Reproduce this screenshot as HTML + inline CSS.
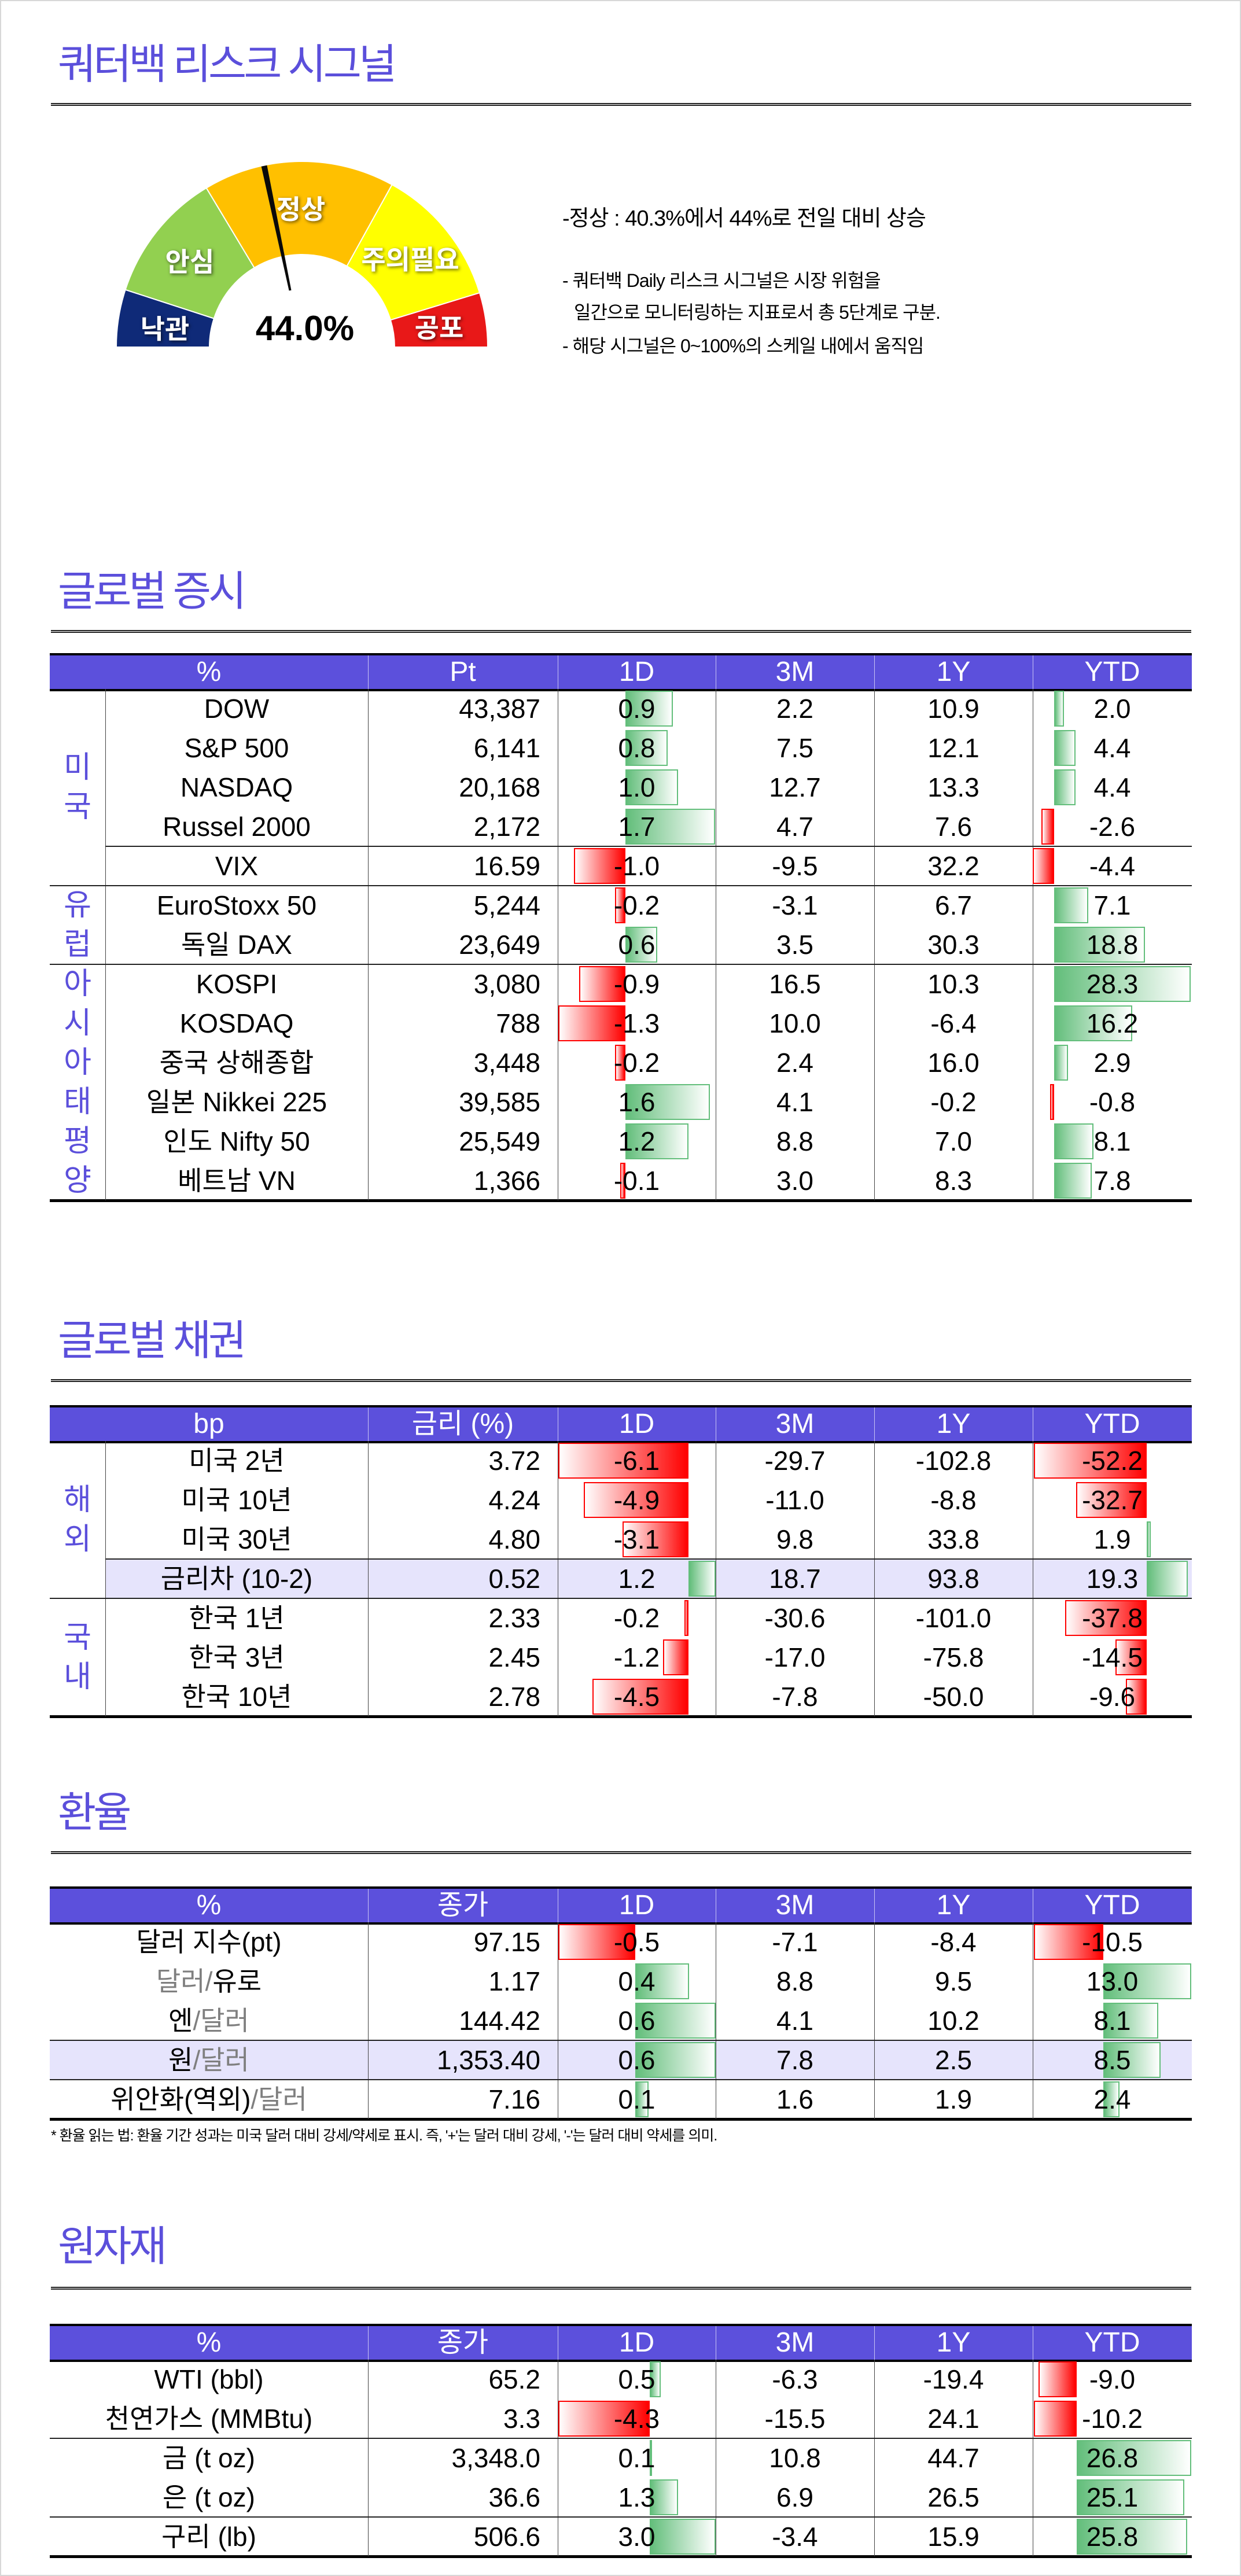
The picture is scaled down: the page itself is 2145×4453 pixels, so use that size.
<!DOCTYPE html>
<html><head><meta charset="utf-8">
<style>
*{margin:0;padding:0;box-sizing:border-box}
body{width:2145px;height:4453px;background:#fff;position:relative;overflow:hidden;font-family:"Liberation Sans","Noto Sans CJK KR",sans-serif;color:#000}
#frame{position:absolute;left:0;top:0;width:2145px;height:4453px;border:2px solid #d8d8d8}
.title{position:absolute;left:100px;font-size:72px;color:#5b4fdb;letter-spacing:-5px;line-height:80px;height:80px;white-space:nowrap}
.rule{position:absolute;left:88px;width:1971px;height:5px;border-top:2px solid #222;border-bottom:2px solid #222}
.abs{position:absolute}
.t{position:absolute;font-size:46px;line-height:68px;white-space:nowrap;text-align:center}
.hdr{position:absolute;background:#5c50dc;border-top:4px solid #000;border-bottom:4px solid #000}
.ht{position:absolute;color:#fff;font-size:48px;text-align:center;white-space:nowrap}
.vl{position:absolute;width:1px;background:#444}
.hl{position:absolute;height:2px;background:#222}
.reg{position:absolute;color:#5b4fdb;font-size:52px;text-align:center;width:96px;left:86px;line-height:68px}
.note{position:absolute;font-size:38px;white-space:nowrap;letter-spacing:-1px}
.note2{position:absolute;font-size:32px;white-space:nowrap;letter-spacing:-1px}
.gray{color:#7f7f7f}
</style></head>
<body>
<div id="frame"></div>

<div class="title" style="top:72px">쿼터백 리스크 시그널</div>
<div class="rule" style="top:178px"></div>

<svg id="gauge" class="abs" style="left:0;top:0" width="1000" height="700"></svg>

<div class="note" style="left:972px;top:346px">-정상 : 40.3%에서 44%로 전일 대비 상승</div>
<div class="note2" style="left:972px;top:460px">- 쿼터백 Daily 리스크 시그널은 시장 위험을</div>
<div class="note2" style="left:992px;top:515px">일간으로 모니터링하는 지표로서 총 5단계로 구분.</div>
<div class="note2" style="left:972px;top:573px">- 해당 시그널은 0~100%의 스케일 내에서 움직임</div>

<div class="title" style="top:983px">글로벌 증시</div>
<div class="rule" style="top:1089px"></div>
<div class="title" style="top:2278px">글로벌 채권</div>
<div class="rule" style="top:2384px"></div>
<div class="title" style="top:3094px">환율</div>
<div class="rule" style="top:3200px"></div>
<div class="title" style="top:3844px">원자재</div>
<div class="rule" style="top:3953px"></div>

<div class="abs" style="left:88px;top:3672px;font-size:25px;white-space:nowrap;letter-spacing:-1px">* 환율 읽는 법: 환율 기간 성과는 미국 달러 대비 강세/약세로 표시. 즉, '+'는 달러 대비 강세, '-'는 달러 대비 약세를 의미.</div>

<div id="tables"></div>

<script>
// ---------- Gauge data ----------
const gaugeBounds = [180, 162, 121, 61, 17, 0];           // segment boundary angles (deg)
const gaugeColors = ["#0f2a78", "#92d050", "#ffc000", "#ffff00", "#e81818"];
const gaugeLabels = ["낙관", "안심", "정상", "주의필요", "공포"];
const gaugeValue = [44.0];

(function(){
  const svg = document.getElementById('gauge');
  const NS = "http://www.w3.org/2000/svg";
  const cx = 522, cy = 600, R = 321, r = 160;
  const pt = (a, rad) => [cx + rad*Math.cos(a*Math.PI/180), cy - rad*Math.sin(a*Math.PI/180)];
  for (let i = 0; i < gaugeColors.length; i++) {
    const a0 = gaugeBounds[i], a1 = gaugeBounds[i+1];
    const p0 = pt(a0,R), p1 = pt(a1,R), q1 = pt(a1,r), q0 = pt(a0,r);
    const p = document.createElementNS(NS,'path');
    p.setAttribute('d', `M${p0[0]},${p0[1]} A${R},${R} 0 0 1 ${p1[0]},${p1[1]} L${q1[0]},${q1[1]} A${r},${r} 0 0 0 ${q0[0]},${q0[1]} Z`);
    p.setAttribute('fill', gaugeColors[i]);
    p.setAttribute('stroke', '#fff');
    p.setAttribute('stroke-width', '2');
    
    
    svg.appendChild(p);
  }
  // labels
  const labelPos = [[285,569],[328,453],[520,362],[709,449],[759,567]];
  for (let i = 0; i < gaugeLabels.length; i++) {
    const t = document.createElementNS(NS,'text');
    t.setAttribute('x', labelPos[i][0]);
    t.setAttribute('y', labelPos[i][1] + 16);
    t.setAttribute('text-anchor', 'middle');
    t.setAttribute('font-size', '46');
    t.setAttribute('font-weight', 'bold');
    t.setAttribute('fill', '#fff');
    t.setAttribute('style', 'font-family:"Liberation Sans","Noto Sans CJK KR",sans-serif;filter:drop-shadow(2px 2px 3px rgba(0,0,0,0.6))');
    t.textContent = gaugeLabels[i];
    
    
    svg.appendChild(t);
  }
  // needle
  const ang = 180 - gaugeValue[0] * 1.8 + 1;
  const tip = pt(ang, 320), base = pt(ang, 100);
  const perp = (ang+90)*Math.PI/180;
  const w1 = 5, w2 = 2;
  const n = document.createElementNS(NS,'polygon');
  n.setAttribute('points', `${tip[0]+w1*Math.cos(perp)},${tip[1]-w1*Math.sin(perp)} ${tip[0]-w1*Math.cos(perp)},${tip[1]+w1*Math.sin(perp)} ${base[0]-w2*Math.cos(perp)},${base[1]+w2*Math.sin(perp)} ${base[0]+w2*Math.cos(perp)},${base[1]-w2*Math.sin(perp)}`);
  n.setAttribute('fill', '#0a0a0a');
  
  
  svg.appendChild(n);
  const v = document.createElementNS(NS,'text');
  v.setAttribute('x', 527); v.setAttribute('y', 588);
  v.setAttribute('text-anchor', 'middle');
  v.setAttribute('font-size', '60'); v.setAttribute('font-weight', 'bold');
  v.setAttribute('style', 'font-family:"Liberation Sans",sans-serif');
  v.textContent = gaugeValue[0].toFixed(1) + '%';
  
  
  svg.appendChild(v);
})();

// ---------- Table data ----------
// Global equity
const eqNames = ["DOW","S&P 500","NASDAQ","Russel 2000","VIX","EuroStoxx 50","독일 DAX","KOSPI","KOSDAQ","중국 상해종합","일본 Nikkei 225","인도 Nifty 50","베트남 VN"];
const eqLevel = ["43,387","6,141","20,168","2,172","16.59","5,244","23,649","3,080","788","3,448","39,585","25,549","1,366"];
const eq1D = [0.9,0.8,1.0,1.7,-1.0,-0.2,0.6,-0.9,-1.3,-0.2,1.6,1.2,-0.1];
const eq3M = [2.2,7.5,12.7,4.7,-9.5,-3.1,3.5,16.5,10.0,2.4,4.1,8.8,3.0];
const eq1Y = [10.9,12.1,13.3,7.6,32.2,6.7,30.3,10.3,-6.4,16.0,-0.2,7.0,8.3];
const eqYTD = [2.0,4.4,4.4,-2.6,-4.4,7.1,18.8,28.3,16.2,2.9,-0.8,8.1,7.8];
// Global bonds
const bdNames = ["미국 2년","미국 10년","미국 30년","금리차 (10-2)","한국 1년","한국 3년","한국 10년"];
const bdLevel = ["3.72","4.24","4.80","0.52","2.33","2.45","2.78"];
const bd1D = [-6.1,-4.9,-3.1,1.2,-0.2,-1.2,-4.5];
const bd3M = [-29.7,-11.0,9.8,18.7,-30.6,-17.0,-7.8];
const bd1Y = [-102.8,-8.8,33.8,93.8,-101.0,-75.8,-50.0];
const bdYTD = [-52.2,-32.7,1.9,19.3,-37.8,-14.5,-9.6];
// FX
const fxNames = ['달러 지수(pt)','<span class="gray">달러/</span>유로','엔<span class="gray">/달러</span>','원<span class="gray">/달러</span>','위안화(역외)<span class="gray">/달러</span>'];
const fxLevel = ["97.15","1.17","144.42","1,353.40","7.16"];
const fx1D = [-0.5,0.4,0.6,0.6,0.1];
const fx3M = [-7.1,8.8,4.1,7.8,1.6];
const fx1Y = [-8.4,9.5,10.2,2.5,1.9];
const fxYTD = [-10.5,13.0,8.1,8.5,2.4];
// Commodities
const cmNames = ["WTI (bbl)","천연가스 (MMBtu)","금 (t oz)","은 (t oz)","구리 (lb)"];
const cmLevel = ["65.2","3.3","3,348.0","36.6","506.6"];
const cm1D = [0.5,-4.3,0.1,1.3,3.0];
const cm3M = [-6.3,-15.5,10.8,6.9,-3.4];
const cm1Y = [-19.4,24.1,44.7,26.5,15.9];
const cmYTD = [-9.0,-10.2,26.8,25.1,25.8];

// ---------- Rendering ----------
const COLS = [86, 182, 636, 964, 1237, 1511, 1785, 2060];
const ROWH = 68;
const root = document.getElementById('tables');
function mk(cls, style, name, html){
  const d = document.createElement('div');
  if (cls) d.className = cls;
  d.style.cssText = style;
  if (html !== undefined) d.innerHTML = html;
  
  
  root.appendChild(d);
  return d;
}
function bar(v, zero, pscale, nscale, rowTop, name){
  if (v >= 0) {
    const w = Math.max(v * pscale, 3);
    mk('', `position:absolute;left:${zero}px;top:${rowTop+3}px;width:${w}px;height:${ROWH-6}px;background:linear-gradient(to right,#63be7b,#ffffff);border:2px solid #63be7b`, name);
  } else {
    const w = Math.max(-v * nscale, 3);
    mk('', `position:absolute;left:${zero-w}px;top:${rowTop+3}px;width:${w}px;height:${ROWH-6}px;background:linear-gradient(to left,#ff0000,#ffffff);border:2px solid #ff0000`, name);
  }
}
function table(cfg){
  const top = cfg.top, hb = top + 62, n = cfg.names.length;
  const end = hb + n*ROWH;
  const nameLeft = cfg.region ? COLS[1] : COLS[0];
  // highlights
  (cfg.highlight||[]).forEach(h => {
    mk('', `position:absolute;left:${h[1]}px;top:${hb+h[0]*ROWH}px;width:${COLS[7]-h[1]}px;height:${ROWH}px;background:#e6e4fc`, cfg.id+'-highlight-row');
  });
  // header
  mk('hdr', `left:${COLS[0]}px;top:${top}px;width:${COLS[7]-COLS[0]}px;height:66px`, cfg.id+'-header');
  const hx = [[COLS[0],COLS[2]],[COLS[2],COLS[3]],[COLS[3],COLS[4]],[COLS[4],COLS[5]],[COLS[5],COLS[6]],[COLS[6],COLS[7]]];
  cfg.headers.forEach((h,i) => {
    mk('ht', `left:${hx[i][0]}px;top:${top+4}px;width:${hx[i][1]-hx[i][0]}px;line-height:58px`, cfg.id+'-header-'+i, h);
  });
  for (let i = 2; i <= 6; i++) {
    mk('', `position:absolute;left:${COLS[i]}px;top:${top+4}px;width:1px;height:58px;background:#c8c4f4`, cfg.id+'-header-divider');
  }
  // bottom rule
  mk('', `position:absolute;left:${COLS[0]}px;top:${end-2}px;width:${COLS[7]-COLS[0]}px;height:5px;background:#000`, cfg.id+'-bottom-rule');
  // vertical lines
  const vls = cfg.region ? [1,2,3,4,5,6] : [2,3,4,5,6];
  vls.forEach(i => mk('vl', `left:${COLS[i]}px;top:${hb}px;height:${end-hb}px`, cfg.id+'-col-line'));
  // separators
  (cfg.seps||[]).forEach(s => mk('hl', `left:${s[1]}px;top:${hb+s[0]*ROWH-1}px;width:${COLS[7]-s[1]}px`, cfg.id+'-separator'));
  // bars
  for (let r = 0; r < n; r++) {
    const rt = hb + r*ROWH;
    bar(cfg.d1[r], cfg.z1, cfg.p1, cfg.n1, rt, cfg.id+'-bar-1d');
    bar(cfg.ytd[r], cfg.z2, cfg.p2, cfg.n2, rt, cfg.id+'-bar-ytd');
  }
  // text
  for (let r = 0; r < n; r++) {
    const rt = hb + r*ROWH;
    mk('t', `left:${nameLeft}px;top:${rt}px;width:${COLS[2]-nameLeft}px`, cfg.id+'-name', cfg.names[r]);
    mk('t', `left:${COLS[2]}px;top:${rt}px;width:${COLS[3]-COLS[2]-30}px;text-align:right`, cfg.id+'-level', cfg.level[r]);
    mk('t', `left:${COLS[3]}px;top:${rt}px;width:${COLS[4]-COLS[3]}px`, cfg.id+'-1d', cfg.d1[r].toFixed(1));
    mk('t', `left:${COLS[4]}px;top:${rt}px;width:${COLS[5]-COLS[4]}px`, cfg.id+'-3m', cfg.m3[r].toFixed(1));
    mk('t', `left:${COLS[5]}px;top:${rt}px;width:${COLS[6]-COLS[5]}px`, cfg.id+'-1y', cfg.y1[r].toFixed(1));
    mk('t', `left:${COLS[6]}px;top:${rt}px;width:${COLS[7]-COLS[6]}px`, cfg.id+'-ytd', cfg.ytd[r].toFixed(1));
  }
  // region labels
  (cfg.region||[]).forEach(g => {
    const [start, span, chars] = g;
    const mid = hb + (start + span/2)*ROWH;
    const tot = chars.length*ROWH;
    chars.split('').forEach((c,k) => {
      mk('reg', `top:${mid - tot/2 + k*ROWH}px`, cfg.id+'-region-label', c);
    });
  });
}

table({id:'equity', top:1129, headers:['%','Pt','1D','3M','1Y','YTD'],
  names:eqNames, level:eqLevel, d1:eq1D, m3:eq3M, y1:eq1Y, ytd:eqYTD,
  z1:1081, p1:91, n1:89, z2:1822, p2:8.35, n2:8.4,
  region:[[0,5,'미국'],[5,2,'유럽'],[7,6,'아시아태평양']],
  seps:[[4,182],[5,86],[7,86]]});
table({id:'bond', top:2429, headers:['bp','금리 (%)','1D','3M','1Y','YTD'],
  names:bdNames, level:bdLevel, d1:bd1D, m3:bd3M, y1:bd1Y, ytd:bdYTD,
  z1:1190, p1:39, n1:36.9, z2:1982, p2:3.7, n2:3.74,
  region:[[0,4,'해외'],[4,3,'국내']],
  highlight:[[3,182]],
  seps:[[3,182],[4,86]]});
table({id:'fx', top:3261, headers:['%','종가','1D','3M','1Y','YTD'],
  names:fxNames, level:fxLevel, d1:fx1D, m3:fx3M, y1:fx1Y, ytd:fxYTD,
  z1:1098, p1:232, n1:266, z2:1907, p2:11.7, n2:11.4,
  highlight:[[3,86]],
  seps:[[3,86],[4,86]]});
table({id:'commodity', top:4017, headers:['%','종가','1D','3M','1Y','YTD'],
  names:cmNames, level:cmLevel, d1:cm1D, m3:cm3M, y1:cm1Y, ytd:cmYTD,
  z1:1123, p1:38, n1:36.7, z2:1861, p2:7.4, n2:7.3,
  seps:[[2,86],[4,86]]});
</script>
</body></html>
